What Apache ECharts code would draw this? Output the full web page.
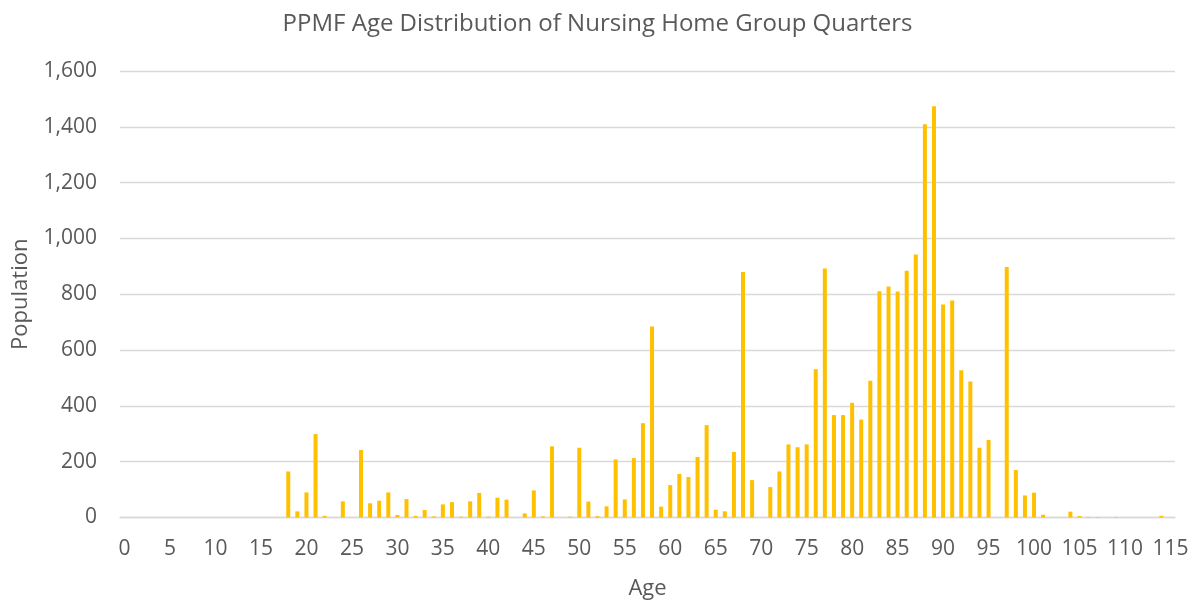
<!DOCTYPE html>
<html>
<head>
<meta charset="utf-8">
<script src="https://cdn.jsdelivr.net/npm/echarts@6/dist/echarts.min.js"></script>
<style>html,body{margin:0;padding:0;background:#fff}#c{width:1195px;height:601px}</style>
</head>
<body>
<div id="c"></div>
<script>
var ages = ['0','1','2','3','4','5','6','7','8','9','10','11','12','13','14','15','16','17','18','19',
  '20','21','22','23','24','25','26','27','28','29','30','31','32','33','34','35','36','37','38','39',
  '40','41','42','43','44','45','46','47','48','49','50','51','52','53','54','55','56','57','58','59',
  '60','61','62','63','64','65','66','67','68','69','70','71','72','73','74','75','76','77','78','79',
  '80','81','82','83','84','85','86','87','88','89','90','91','92','93','94','95','96','97','98','99',
  '100','101','102','103','104','105','106','107','108','109','110','111','112','113','114','115'];
var population = [
  0,0,0,0,0,0,0,0,0,0,
  0,0,0,0,0,0,0,0,165,22,
  90,299,6,0,58,0,242,51,60,90,
  9,66,6,27,4,47,55,3,58,88,
  3,71,64,0,15,97,4,255,0,3,
  250,57,5,40,208,65,213,338,684,39,
  116,156,145,217,331,28,22,235,880,134,
  0,109,165,262,252,262,531,892,367,367,
  411,351,490,811,828,810,884,942,1409,1474,
  763,778,528,487,250,278,0,898,170,79,
  89,10,0,0,21,5,2,2,0,2,
  0,0,0,0,6,0];
var titleText = 'PPMF Age Distribution of Nursing Home Group Quarters';
var xName = 'Age';
var yName = 'Population';

var chart = echarts.init(document.getElementById('c'));
var font = 'Open Sans';
chart.setOption({
  animation: false,
  title: {
    text: titleText, left: 'center', top: 7,
    textStyle: {fontFamily: font, fontSize: 24, fontWeight: 'normal', color: '#595959'}
  },
  grid: {left: 120, right: 20, top: 71, bottom: 83.5, containLabel: false, outerBoundsMode: 'none'},
  xAxis: {
    type: 'category', data: ages,
    name: xName, nameLocation: 'middle', nameGap: 60,
    nameTextStyle: {fontFamily: font, fontSize: 22, color: '#595959'},
    axisLine: {lineStyle: {color: '#D9D9D9', width: 1.3}},
    axisTick: {show: false},
    axisLabel: {interval: 4, margin: 21, fontFamily: font, fontSize: 21, color: '#595959'}
  },
  yAxis: {
    type: 'value', min: 0, max: 1600, interval: 200,
    name: yName, nameLocation: 'middle', nameGap: 88,
    nameTextStyle: {fontFamily: font, fontSize: 22, color: '#595959'},
    axisLine: {show: false}, axisTick: {show: false},
    splitLine: {lineStyle: {color: '#D9D9D9', width: 1.3}},
    axisLabel: {margin: 23, fontFamily: font, fontSize: 21, color: '#595959',
      formatter: function (v) { return v.toLocaleString('en-US'); }}
  },
  series: [{
    type: 'bar', data: population, barCategoryGap: '56%',
    itemStyle: {color: '#FFC000'}
  }]
});
</script>
</body>
</html>
